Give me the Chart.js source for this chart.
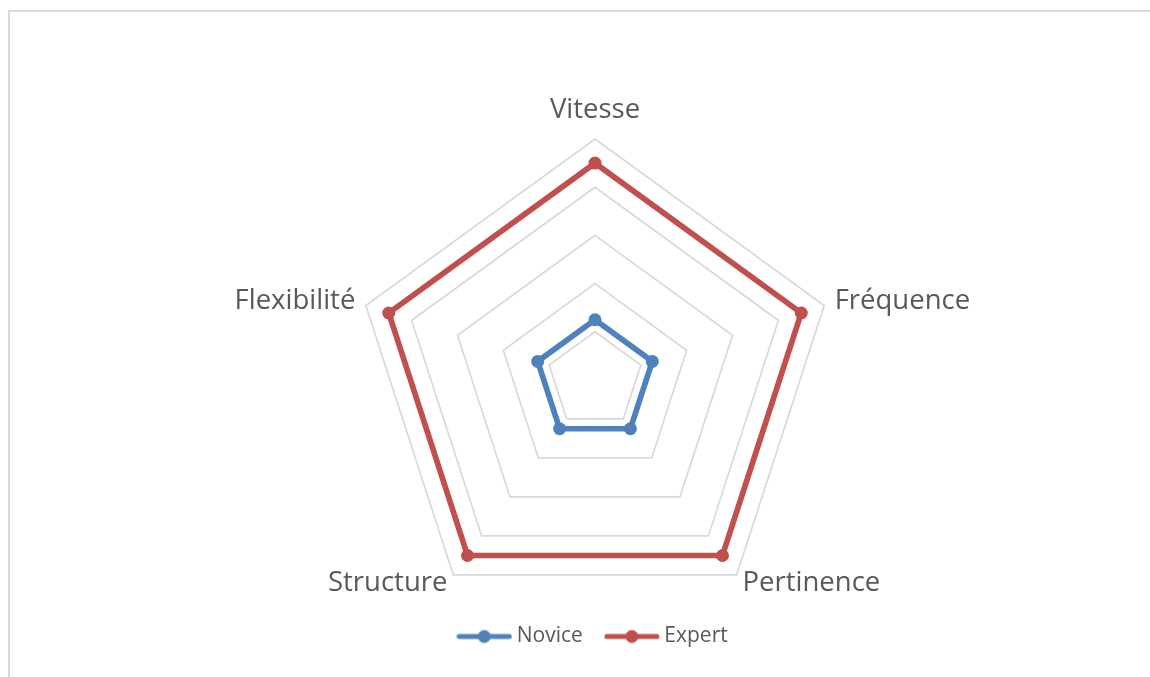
<!DOCTYPE html>
<html>
<head>
<meta charset="utf-8">
<script src="https://cdn.jsdelivr.net/npm/chart.js@4/dist/chart.umd.min.js"></script>
<style>
  html, body { margin: 0; padding: 0; background: #ffffff; }
  #wrap { position: relative; width: 1150px; height: 677px; overflow: hidden; }
  #frame { position: absolute; left: 8px; top: 10px; width: 2000px; height: 2000px;
           border-left: 2px solid #d9d9d9; border-top: 2px solid #d9d9d9; box-sizing: border-box; }
  #c { position: absolute; left: 0; top: 0; }
</style>
</head>
<body>
<div id="wrap">
  <div id="frame"></div>
  <canvas id="c" width="1150" height="677"></canvas>
</div>
<script>
// ---- data ----
const categories = ['Vitesse', 'Fréquence', 'Pertinence', 'Structure', 'Flexibilité'];
const seriesNames = ['Novice', 'Expert'];
const noviceValues = [2.5, 2.5, 2.5, 2.5, 2.5];
const expertValues = [9, 9, 9, 9, 9];
const scaleMin = 0;
const scaleMax = 10;
const scaleStep = 2;

// ---- styling ----
const colors = ['#4F81BD', '#C0504D'];
const labelPadding = [28, 11, 10, 10, 11];
const textColor = '#595959';

function makeGlyph(color) {
  const cv = document.createElement('canvas');
  cv.width = 56; cv.height = 16;
  const g = cv.getContext('2d');
  g.strokeStyle = color; g.lineWidth = 5; g.lineCap = 'round';
  g.beginPath(); g.moveTo(3, 8); g.lineTo(53, 8); g.stroke();
  g.fillStyle = color;
  g.beginPath(); g.arc(28, 8, 6.5, 0, Math.PI * 2); g.fill();
  return cv;
}
const glyphs = colors.map(makeGlyph);

const datasets = [noviceValues, expertValues].map((vals, i) => ({
  label: seriesNames[i],
  data: vals,
  borderColor: colors[i],
  backgroundColor: colors[i],
  pointBackgroundColor: colors[i],
  pointBorderColor: colors[i],
  pointBorderWidth: 0,
  pointRadius: 6.5,
  pointHoverRadius: 6.5,
  borderWidth: 5.7,
  borderJoinStyle: 'round',
  fill: false,
  tension: 0
}));

new Chart(document.getElementById('c'), {
  type: 'radar',
  data: { labels: categories, datasets },
  options: {
    responsive: false,
    animation: false,
    layout: { padding: { left: 40, right: 0, top: 0, bottom: 20 } },
    plugins: {
      tooltip: { enabled: false },
      legend: {
        position: 'bottom',
        labels: {
          usePointStyle: true,
          pointStyleWidth: 44,
          padding: 27,
          color: textColor,
          font: { family: "'Open Sans'", size: 21 },
          generateLabels: (chart) => {
            const items = Chart.defaults.plugins.legend.labels.generateLabels(chart);
            items.forEach(it => { it.pointStyle = glyphs[it.datasetIndex]; });
            return items;
          }
        }
      }
    },
    scales: {
      r: {
        min: scaleMin,
        max: scaleMax,
        ticks: { stepSize: scaleStep, display: false },
        grid: { color: '#d9d9d9', lineWidth: 1.75 },
        angleLines: { display: false },
        pointLabels: {
          color: textColor,
          font: { family: "'Open Sans'", size: 27.5, lineHeight: '1px' },
          padding: (ctx) => labelPadding[ctx.index]
        },
        afterSetDimensions: (s) => {
          s.yCenter = 380;
          s.drawingArea = 241;
        }
      }
    }
  }
});
</script>
</body>
</html>
